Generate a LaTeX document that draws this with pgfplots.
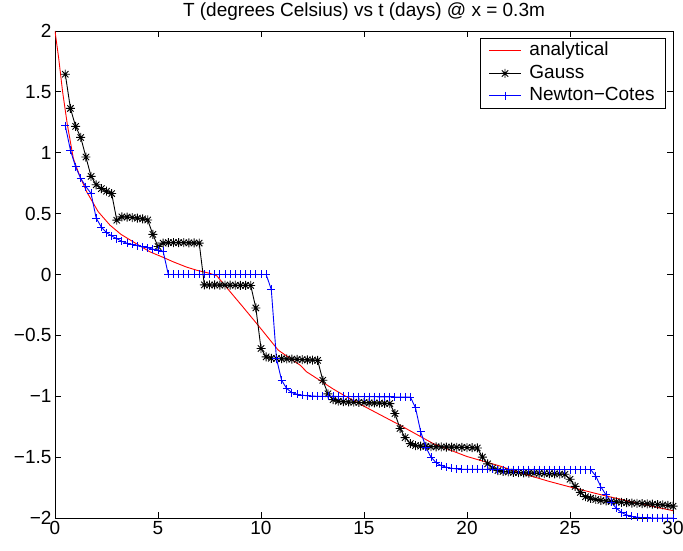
\documentclass[border=0pt]{standalone}
\usepackage{fontspec}
\setmainfont{Liberation Sans}
\usepackage{pgfplots}
\pgfplotsset{compat=1.18}
\usepackage{pgfplotstable}
\usetikzlibrary{calc}

% matlab style '*' marker: a + and an x on top of each other
\pgfdeclareplotmark{mstar}{%
  \pgfpathmoveto{\pgfqpoint{-\pgfplotmarksize}{0pt}}%
  \pgfpathlineto{\pgfqpoint{\pgfplotmarksize}{0pt}}%
  \pgfpathmoveto{\pgfqpoint{0pt}{-\pgfplotmarksize}}%
  \pgfpathlineto{\pgfqpoint{0pt}{\pgfplotmarksize}}%
  \pgfpathmoveto{\pgfqpoint{-.707\pgfplotmarksize}{-.707\pgfplotmarksize}}%
  \pgfpathlineto{\pgfqpoint{.707\pgfplotmarksize}{.707\pgfplotmarksize}}%
  \pgfpathmoveto{\pgfqpoint{-.707\pgfplotmarksize}{.707\pgfplotmarksize}}%
  \pgfpathlineto{\pgfqpoint{.707\pgfplotmarksize}{-.707\pgfplotmarksize}}%
  \pgfusepathqstroke}

% analytical solution
\pgfplotstableread{
t T
0 2.0
0.18 1.775
0.37 1.5
0.6 1.23
0.89 0.953
1.2 0.81
1.54 0.679
2.1 0.515
2.67 0.405
3.2 0.33
3.8 0.268
4.61 0.186
5.26 0.14
5.74 0.104
6.4 0.06
6.88 0.035
7.5 0.01
7.85 -0.01
8.33 -0.107
9.14 -0.27
9.95 -0.436
10.84 -0.622
11.9 -0.745
12.22 -0.8
13.5 -0.94
14.0 -0.99
15.2 -1.1
16.75 -1.238
18.36 -1.389
20.0 -1.495
21.6 -1.573
22.4 -1.62
24.0 -1.70
25.0 -1.745
26.6 -1.813
28.24 -1.877
30 -1.94
}\anatab

% Gauss (G) and Newton-Cotes (N), dt = 0.25 day
\pgfplotstableread{
t G N
0.5 1.645 1.221
0.75 1.364 1.021
1.0 1.217 0.884
1.25 1.126 0.789
1.5 0.965 0.722
1.75 0.806 0.666
2.0 0.737 0.463
2.25 0.706 0.389
2.5 0.684 0.344
2.75 0.665 0.317
3.0 0.446 0.294
3.25 0.473 0.272
3.5 0.472 0.256
3.75 0.468 0.247
4.0 0.463 0.236
4.25 0.457 0.227
4.5 0.448 0.219
4.75 0.329 0.208
5.0 0.230 0.201
5.25 0.258 0.190
5.5 0.262 0.0
5.75 0.262 0.0
6.0 0.262 0.0
6.25 0.261 0.0
6.5 0.260 0.0
6.75 0.259 0.0
7.0 0.258 0.0
7.25 -0.085 0.0
7.5 -0.086 0.0
7.75 -0.086 0.0
8.0 -0.087 0.0
8.25 -0.087 0.0
8.5 -0.088 0.0
8.75 -0.088 0.0
9.0 -0.089 0.0
9.25 -0.089 0.0
9.5 -0.090 0.0
9.75 -0.275 0.0
10.0 -0.608 0.0
10.25 -0.677 0.0
10.5 -0.688 -0.123
10.75 -0.690 -0.690
11.0 -0.692 -0.869
11.25 -0.694 -0.937
11.5 -0.695 -0.970
11.75 -0.697 -0.984
12.0 -0.699 -0.992
12.25 -0.701 -0.996
12.5 -0.703 -0.999
12.75 -0.705 -1.000
13.0 -0.869 -1.000
13.25 -0.980 -1.001
13.5 -1.028 -1.001
13.75 -1.040 -1.002
14.0 -1.044 -1.002
14.25 -1.047 -1.002
14.5 -1.049 -1.003
14.75 -1.051 -1.003
15.0 -1.052 -1.003
15.25 -1.054 -1.004
15.5 -1.055 -1.004
15.75 -1.056 -1.005
16.0 -1.058 -1.005
16.25 -1.060 -1.005
16.5 -1.142 -1.006
16.75 -1.265 -1.006
17.0 -1.340 -1.006
17.25 -1.389 -1.006
17.5 -1.405 -1.095
17.75 -1.410 -1.290
18.0 -1.412 -1.417
18.25 -1.414 -1.500
18.5 -1.415 -1.545
18.75 -1.416 -1.570
19.0 -1.417 -1.583
19.25 -1.418 -1.592
19.5 -1.419 -1.597
19.75 -1.420 -1.600
20.0 -1.421 -1.601
20.25 -1.423 -1.601
20.5 -1.425 -1.601
20.75 -1.500 -1.601
21.0 -1.555 -1.601
21.25 -1.590 -1.601
21.5 -1.610 -1.602
21.75 -1.618 -1.602
22.0 -1.622 -1.602
22.25 -1.625 -1.602
22.5 -1.627 -1.602
22.75 -1.629 -1.602
23.0 -1.631 -1.602
23.25 -1.632 -1.602
23.5 -1.634 -1.602
23.75 -1.635 -1.602
24.0 -1.636 -1.602
24.25 -1.637 -1.602
24.5 -1.639 -1.602
24.75 -1.641 -1.602
25.0 -1.682 -1.602
25.25 -1.740 -1.602
25.5 -1.790 -1.602
25.75 -1.825 -1.602
26.0 -1.838 -1.602
26.25 -1.848 -1.655
26.5 -1.855 -1.745
26.75 -1.860 -1.810
27.0 -1.864 -1.870
27.25 -1.868 -1.920
27.5 -1.871 -1.955
27.75 -1.874 -1.975
28.0 -1.877 -1.987
28.25 -1.879 -1.994
28.5 -1.882 -1.997
28.75 -1.884 -1.999
29.0 -1.887 -2.000
29.25 -1.890 -2.000
29.5 -1.893 -2.000
29.75 -1.897 -2.000
30.0 -1.903 -2.000
}\numtab

\begin{document}
\begin{tikzpicture}
\begin{axis}[
  name=ax,
  scale only axis, width=618pt, height=487pt,
  xmin=0, xmax=30, ymin=-2, ymax=2,
  xtick={0,5,10,15,20,25,30},
  ytick={-2,-1.5,-1,-0.5,0,0.5,1,1.5,2},
  yticklabels={−2,−1.5,−1,−0.5,0,0.5,1,1.5,2},
  font=\fontsize{19}{22}\selectfont,
  /pgf/number format/assume math mode=true,
  tick align=inside, major tick length=6pt,
  tick style={black, line width=0.8pt},
  axis line style={line width=0.8pt},
  title={T (degrees Celsius) vs t (days) @ x = 0.3m},
  title style={at={(0.5,1)}, anchor=base, yshift=8pt},
  legend cell align=left,
  legend style={at={(1,1)}, anchor=north east, xshift=-7pt, yshift=-7pt,
    draw=black, line width=0.8pt, inner xsep=8pt, inner ysep=3pt, row sep=3.5pt,
    nodes={inner xsep=3pt, inner ysep=1.5pt, text height=13pt, text depth=3pt},
    /tikz/every odd column/.append style={column sep=5pt}},
  every axis plot/.append style={
    legend image code/.code={%
      \draw[mark repeat=2, mark phase=2, #1] plot coordinates {(0pt,0pt) (16pt,0pt) (32pt,0pt)};}},
]
\addplot[red, line width=0.9pt] table[x=t, y=T] {\anatab};
\addlegendentry{analytical}
\addplot[black, line width=0.9pt, mark=mstar, mark size=4.5pt] table[x=t, y=G] {\numtab};
\addlegendentry{Gauss}
\addplot[blue, line width=0.9pt, mark=+, mark size=4pt] table[x=t, y=N] {\numtab};
\addlegendentry{Newton−Cotes}
\end{axis}
\pgfresetboundingbox
\path[use as bounding box] ($(ax.south west)+(-55pt,-33pt)$) rectangle ($(ax.north east)+(10pt,31pt)$);
\end{tikzpicture}
\end{document}
